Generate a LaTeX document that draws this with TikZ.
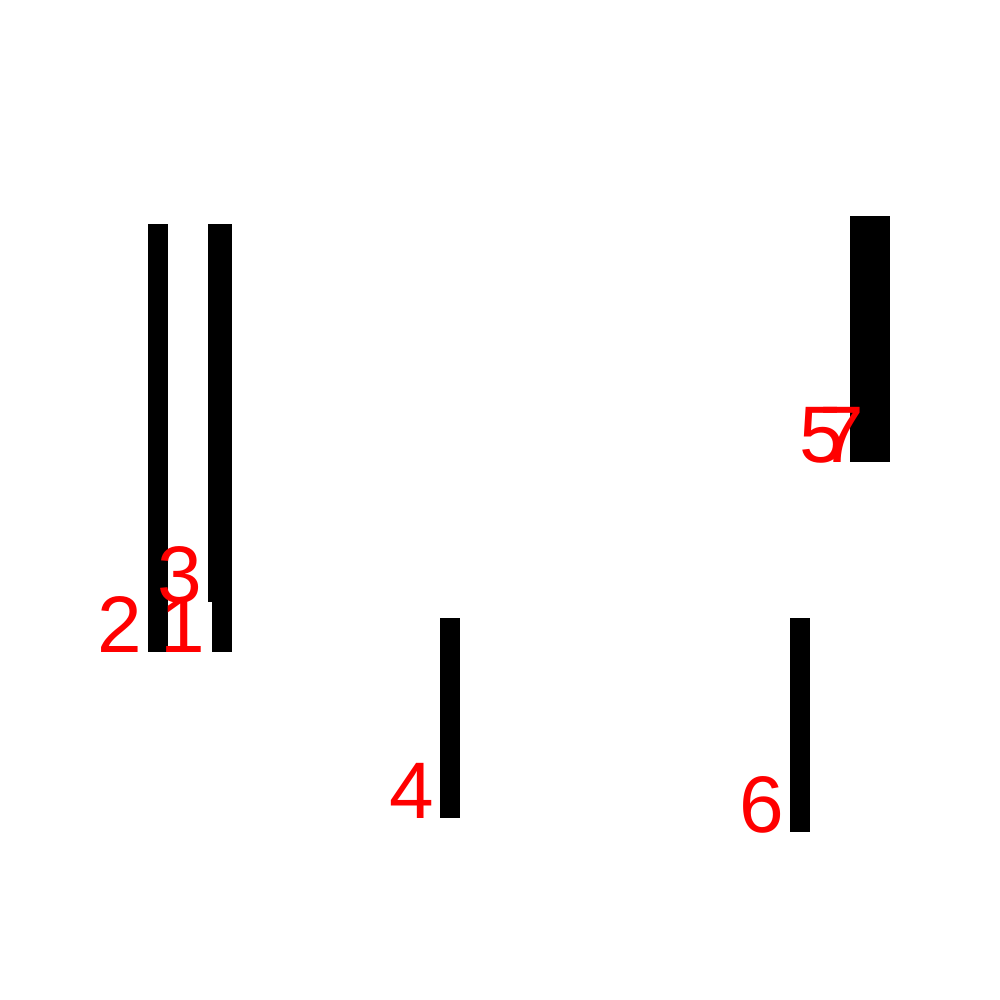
\documentclass[tikz,border=0pt]{standalone}
\usepackage{fontspec}
\setmainfont{Liberation Sans}
\tikzset{
  bar/.style={fill=black},
  num/.style={text=red,inner sep=0pt,anchor=base east,font=\fontsize{22.8}{27}\selectfont}
}
\begin{document}
\begin{tikzpicture}[x=0.01cm,y=-0.01cm]
  \useasboundingbox[fill=white](0,0) rectangle (1000,1000);
  % bars
  \fill[bar](148,224) rectangle (168,652);
  \fill[bar](212,224) rectangle (232,652);
  \fill[bar](208,224) rectangle (232,602);
  \fill[bar](440,618) rectangle (460,818);
  \fill[bar](850,216) rectangle (870,462);
  \fill[bar](790,618) rectangle (810,832);
  \fill[bar](870,216) rectangle (890,462);
  % labels
  \node[num](n1) at(206,652){1};
  \node[num](n2) at(143,652){2};
  \node[num](n3) at(203,602){3};
  \node[num](n4) at(435,818){4};
  \node[num](n5) at(845,462){5};
  \node[num](n6) at(785,832){6};
  \node[num](n7) at(865,462){7};
\end{tikzpicture}
\end{document}
